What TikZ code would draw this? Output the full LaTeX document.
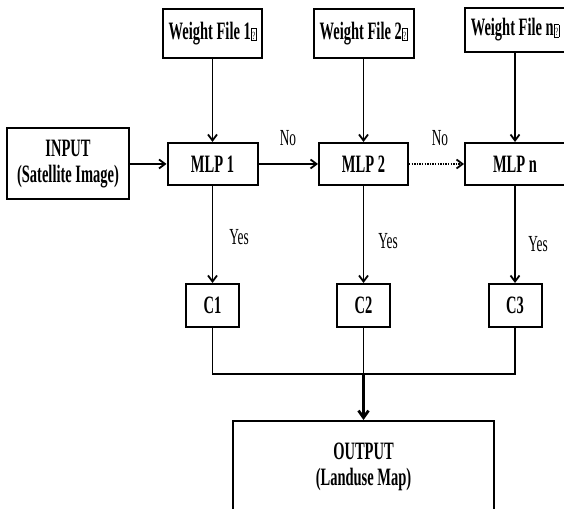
\documentclass[tikz,border=0pt]{standalone}
\usepackage{fontspec}
\setmainfont{Liberation Serif}[FakeStretch=0.58]
\usetikzlibrary{arrows.meta}

% small framed question mark that follows each weight-file name
\newcommand\qglyph{\kern0.6pt{\setlength{\fboxsep}{0.5pt}\setlength{\fboxrule}{0.5pt}%
  \fbox{\fontsize{11}{11}\selectfont\mdseries\rule[-0.5pt]{0pt}{11pt}?}}}

\begin{document}
\begin{tikzpicture}[x=1pt,y=1pt,
  box/.style={draw, line width=2pt, inner sep=0pt, align=center,
              font=\fontsize{25}{26}\selectfont\bfseries},
  wire/.style={line width=1.8pt},
  arr/.style={wire, -{Straight Barb[length=6pt,width=9pt]}},
  bigarr/.style={line width=2.8pt, -{Straight Barb[length=7pt,width=10pt]}},
  lbl/.style={font=\fontsize{23}{24}\selectfont, inner sep=0pt}]

\useasboundingbox (0,0) rectangle (564,508);
\clip (0,0) rectangle (564,508);

% weight files
\node[box, minimum width=99,  minimum height=49] (wf1) at (212.5,474.5) {Weight File 1\qglyph};
\node[box, minimum width=100, minimum height=49] (wf2) at (363.5,474.5) {Weight File 2\qglyph};
\node[box, minimum width=100, minimum height=44] (wfn) at (515,478)     {Weight File n\qglyph};

% input and classifiers
\node[box, minimum width=122, minimum height=71] (inp) at (68,344) {INPUT\\(Satellite Image)};
\node[box, minimum width=90,  minimum height=42] (m1) at (212.5,344) {MLP 1};
\node[box, minimum width=89,  minimum height=42] (m2) at (363.5,344) {MLP 2};
\node[box, minimum width=100, minimum height=42] (mn) at (515,344)   {MLP n};

% class outputs
\node[box, minimum width=53, minimum height=43] (c1) at (212.5,202.5) {C1};
\node[box, minimum width=53, minimum height=43] (c2) at (363.5,202.5) {C2};
\node[box, minimum width=53, minimum height=43] (c3) at (515,202.5)   {C3};

% final result
\node[box, minimum width=261, minimum height=92] (out) at (363.5,41) {OUTPUT\\(Landuse Map)};

% edge labels
\node[lbl] (no1) at (288,370) {No};
\node[lbl] (no2) at (440,370) {No};
\node[lbl] (y1) at (239,271) {Yes};
\node[lbl] (y2) at (388,267) {Yes};
\node[lbl] (y3) at (538,264) {Yes};

% connectors
\draw[arr] (wf1.south) -- (m1.north);
\draw[arr] (wf2.south) -- (m2.north);
\draw[arr] (wfn.south) -- (mn.north);
\draw[arr] (inp.east) -- (m1.west);
\draw[arr] (m1.east) -- (m2.west);
\draw[arr, dash pattern=on 1.4pt off 1.2pt] (m2.east) -- (mn.west);
\draw[arr] (m1.south) -- (c1.north);
\draw[arr] (m2.south) -- (c2.north);
\draw[arr] (mn.south) -- (c3.north);

\coordinate (j) at (363.5,134);
\draw[wire] (c1.south) |- (j) -| (c3.south);
\draw[wire] (c2.south) -- (j);
\draw[bigarr] (j) -- (out.north);
\end{tikzpicture}
\end{document}
